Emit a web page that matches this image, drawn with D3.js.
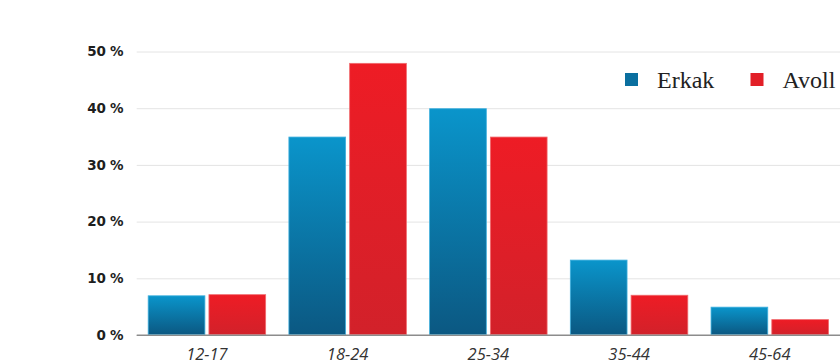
<!DOCTYPE html>
<html>
<head>
<meta charset="utf-8">
<script src="https://cdn.jsdelivr.net/npm/d3@7"></script>
<style>
  html, body { margin: 0; padding: 0; background: #fff; }
  svg { display: block; }
</style>
</head>
<body>
<svg id="chart" width="840" height="364"></svg>
<script>
// ---- data ----
const categories = ["12-17", "18-24", "25-34", "35-44", "45-64"];
const seriesNames = ["Erkak", "Avoll"];
const erkak = [7, 35, 40, 13.3, 5];
const avoll = [7.2, 48, 35, 7.1, 2.8];
const yTicks = [0, 10, 20, 30, 40, 50];

const W = 840, H = 364;
const svg = d3.select("#chart");

const x0 = d3.scaleBand().domain(categories).range([136.7, 840]).paddingInner(0.158).paddingOuter(0.078);
const x1 = d3.scaleBand().domain(seriesNames).range([0, x0.bandwidth()]).paddingInner(0.05);
const y = d3.scaleLinear().domain([0, 50]).range([335, 51.5]);

const defs = svg.append("defs");
const gradBlue = defs.append("linearGradient").attr("id", "gBlue").attr("x1", 0).attr("y1", 0).attr("x2", 0).attr("y2", 1);
gradBlue.append("stop").attr("offset", "0%").attr("stop-color", "#0a95cb");
gradBlue.append("stop").attr("offset", "100%").attr("stop-color", "#0b5882");
const gradRed = defs.append("linearGradient").attr("id", "gRed").attr("x1", 0).attr("y1", 0).attr("x2", 0).attr("y2", 1);
gradRed.append("stop").attr("offset", "0%").attr("stop-color", "#ee1c25");
gradRed.append("stop").attr("offset", "100%").attr("stop-color", "#d2212a");
const fills = { "Erkak": "url(#gBlue)", "Avoll": "url(#gRed)" };
const strokes = { "Erkak": "#3fb0de", "Avoll": "#f06a6e" };
const legendFills = { "Erkak": "#0a6f9f", "Avoll": "#e21f27" };

// gridlines
const yAxis = d3.axisLeft(y).tickValues(yTicks).tickSize(-(840 - 136.7)).tickFormat(d => d + " %");
const gy = svg.append("g").attr("transform", "translate(136.7,0)").call(yAxis);
gy.select(".domain").remove();
gy.selectAll(".tick line").attr("stroke", d => d === 0 ? "#8c8c8c" : "#e4e4e4").attr("stroke-width", d => d === 0 ? 1.2 : 1);
gy.selectAll(".tick text")
  .attr("x", -13.5)
  .attr("font-family", "'DejaVu Sans', sans-serif")
  .attr("font-weight", "bold")
  .attr("font-size", "13.5px")
  .attr("letter-spacing", "-0.3px")
  .attr("fill", "#1e1e1e");

// bars
const data = categories.map((c, i) => ({ cat: c, vals: [{ s: "Erkak", v: erkak[i] }, { s: "Avoll", v: avoll[i] }] }));
const groups = svg.append("g").selectAll("g").data(data).join("g")
  .attr("transform", d => `translate(${x0(d.cat)},0)`);
groups.selectAll("rect").data(d => d.vals).join("rect")
  .attr("x", d => x1(d.s) + 0.5)
  .attr("y", d => y(d.v) + 0.5)
  .attr("width", x1.bandwidth() - 1)
  .attr("height", d => y(0) - y(d.v) - 1)
  .attr("fill", d => fills[d.s])
  .attr("stroke", d => strokes[d.s])
  .attr("stroke-width", 0.8);

// redraw baseline on top
svg.append("line").attr("x1", 136.7).attr("x2", 840).attr("y1", y(0)).attr("y2", y(0))
  .attr("stroke", "#8c8c8c").attr("stroke-width", 1.2);

// x axis labels
const xAxis = d3.axisBottom(x0).tickSize(0).tickPadding(0);
const gx = svg.append("g").attr("transform", `translate(0,${y(0)})`).call(xAxis);
gx.select(".domain").remove();
gx.selectAll(".tick text")
  .attr("y", 24.5)
  .attr("dy", 0)
  .attr("font-family", "'Open Sans', sans-serif")
  .attr("font-style", "italic")
  .attr("font-size", "16.5px")
  .attr("fill", "#333");

// legend
const legendPos = [{ s: "Erkak", x: 625 }, { s: "Avoll", x: 750.5 }];
const lg = svg.append("g").selectAll("g").data(legendPos).join("g")
  .attr("transform", d => `translate(${d.x},73)`);
lg.append("rect").attr("width", 13).attr("height", 13).attr("fill", d => legendFills[d.s]);
lg.append("text").attr("x", 32).attr("y", 15.3)
  .attr("font-family", "'Liberation Serif', 'Times New Roman', serif")
  .attr("font-size", "24px")
  .attr("fill", "#222")
  .text(d => d.s);
</script>
</body>
</html>
